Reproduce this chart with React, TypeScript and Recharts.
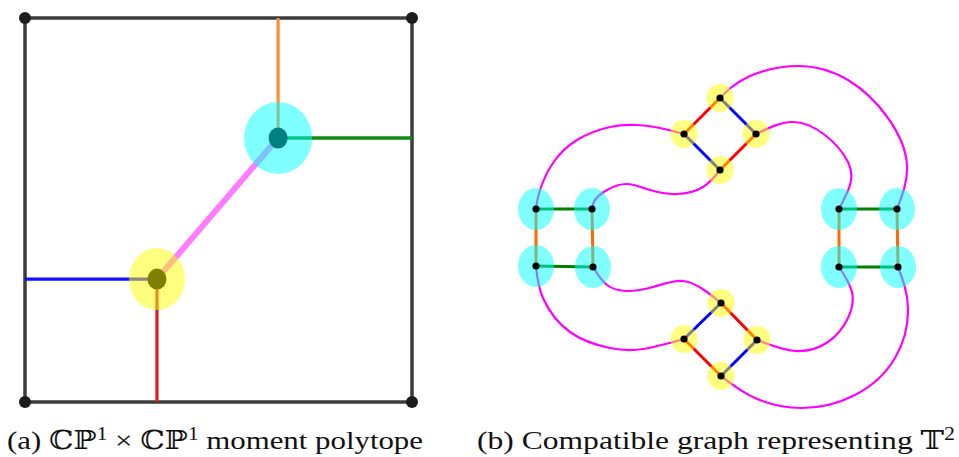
import React from "react";
import { ComposedChart, Line, Scatter, XAxis, YAxis } from "recharts";

type Pt = { x: number; y: number };

// ---- (a) moment polytope, square scaled to 0..100 ----
const squareFrame: Pt[] = [
  { x: 0, y: 0 },
  { x: 100, y: 0 },
  { x: 100, y: 100 },
  { x: 0, y: 100 },
  { x: 0, y: 0 },
];
const squareCorners: Pt[] = squareFrame.slice(0, 4);
const yellowVertex: Pt = { x: 34.1, y: 32 };
const cyanVertex: Pt = { x: 65.4, y: 68.75 };
const orangeLeg: Pt[] = [{ x: 65.4, y: 100 }, cyanVertex];
const greenLeg: Pt[] = [cyanVertex, { x: 100, y: 68.75 }];
const blueLeg: Pt[] = [{ x: 0, y: 32 }, yellowVertex];
const redLeg: Pt[] = [yellowVertex, { x: 34.1, y: 0 }];
const innerEdge: Pt[] = [yellowVertex, cyanVertex];

// ---- (b) compatible graph ----
// top diamond
const tdT: Pt = { x: 2, y: 139 };
const tdL: Pt = { x: -34, y: 103 };
const tdR: Pt = { x: 38, y: 103 };
const tdB: Pt = { x: 2, y: 67 };
// bottom diamond
const bdT: Pt = { x: 3, y: -66 };
const bdL: Pt = { x: -34, y: -102 };
const bdR: Pt = { x: 39, y: -103 };
const bdB: Pt = { x: 3, y: -139 };
// left square
const lsTL: Pt = { x: -182, y: 28 };
const lsTR: Pt = { x: -126, y: 28 };
const lsBL: Pt = { x: -182, y: -29 };
const lsBR: Pt = { x: -125, y: -30 };
// right square
const rsTL: Pt = { x: 121, y: 28 };
const rsTR: Pt = { x: 179, y: 28 };
const rsBL: Pt = { x: 121, y: -30 };
const rsBR: Pt = { x: 180, y: -30 };

const diamondVertices: Pt[] = [tdT, tdL, tdR, tdB, bdT, bdL, bdR, bdB];
const squareVertices: Pt[] = [lsTL, lsTR, lsBL, lsBR, rsTL, rsTR, rsBL, rsBR];

const redEdges: Pt[][] = [[tdT, tdL], [tdR, tdB], [bdT, bdR], [bdL, bdB]];
const blueEdges: Pt[][] = [[tdT, tdR], [tdL, tdB], [bdT, bdL], [bdR, bdB]];
const greenEdges: Pt[][] = [[lsTL, lsTR], [lsBL, lsBR], [rsTL, rsTR], [rsBL, rsBR]];
const orangeEdges: Pt[][] = [[lsTL, lsBL], [lsTR, lsBR], [rsTL, rsBL], [rsTR, rsBR]];

const magentaCurves: Pt[][] = [
  [tdT, { x: 30, y: 160 }, { x: 80, y: 171 }, { x: 130, y: 157 }, { x: 170, y: 119 }, { x: 189, y: 72 }, rsTR],
  [tdR, { x: 74, y: 115 }, { x: 107, y: 102 }, { x: 130, y: 75 }, { x: 132, y: 52 }, rsTL],
  [tdL, { x: -58, y: 109 }, { x: -81, y: 112 }, { x: -108, y: 110 }, { x: -141, y: 97 }, { x: -165, y: 74 }, { x: -178, y: 47 }, lsTL],
  [tdB, { x: -15, y: 50 }, { x: -41, y: 43 }, { x: -68, y: 47 }, { x: -91, y: 53 }, { x: -111, y: 47 }, { x: -123, y: 37 }, lsTR],
  [lsBR, { x: -111, y: -48 }, { x: -91, y: -54 }, { x: -65, y: -50 }, { x: -35, y: -44 }, { x: -11, y: -55 }, bdT],
  [lsBL, { x: -175, y: -61 }, { x: -148, y: -95 }, { x: -108, y: -111 }, { x: -75, y: -112 }, bdL],
  [bdR, { x: 77, y: -114 }, { x: 110, y: -105 }, { x: 130, y: -81 }, { x: 134, y: -55 }, rsBL],
  [bdB, { x: 37, y: -161 }, { x: 84, y: -171 }, { x: 137, y: -158 }, { x: 177, y: -121 }, { x: 190, y: -71 }, rsBR],
];

const captionA = ["(a) ℂℙ", "1", " × ℂℙ", "1", " moment polytope"];
const captionB = ["(b) Compatible graph representing 𝕋", "2"];

const ellipse = (rx: number, ry: number, fill: string, opacity = 1) =>
  (props: any) => (
    <ellipse cx={props.cx} cy={props.cy} rx={rx} ry={ry} fill={fill} fillOpacity={opacity} />
  );

const seg = (key: string, data: Pt[], color: string, width: number, type: any = "linear") => (
  <Line
    key={key}
    data={data}
    dataKey="y"
    type={type}
    stroke={color}
    strokeWidth={width}
    dot={false}
    activeDot={false}
    isAnimationActive={false}
    legendType="none"
  />
);

// caption text: odd pieces are superscripts
const Caption = ({ parts, x, width }: { parts: string[]; x: number; width: number }) => (
  <text
    x={x}
    y={449}
    textLength={width}
    lengthAdjust="spacingAndGlyphs"
    fontFamily='"Liberation Serif", "DejaVu Serif", serif'
    fontSize={26}
    fill="#111"
  >
    {parts.map((p, i) =>
      i % 2 === 1 ? (
        <tspan key={i} fontSize={18} dy={-9}>{p}</tspan>
      ) : (
        <tspan key={i} dy={i > 0 ? 9 : 0}>{p}</tspan>
      )
    )}
  </text>
);

export default function App() {
  return (
    <div style={{ position: "absolute", left: 0, top: 0, width: 959, height: 457, background: "#fff", overflow: "hidden" }}>
      <div style={{ position: "absolute", left: 0, top: 0 }}>
        <ComposedChart width={440} height={420} margin={{ top: 18, right: 28, bottom: 18, left: 25 }}>
          <XAxis type="number" dataKey="x" domain={[0, 100]} hide />
          <YAxis type="number" dataKey="y" domain={[0, 100]} hide />
          {seg("frame", squareFrame, "#3c3c3c", 3.5)}
          {seg("orange", orangeLeg, "#ff8a3a", 3.2)}
          {seg("green", greenLeg, "#128a12", 3.5)}
          {seg("blue", blueLeg, "#1010ff", 3.2)}
          {seg("red", redLeg, "#dd1a1a", 3.2)}
          {seg("inner", innerEdge, "#ff7cff", 6)}
          <Scatter data={squareCorners} shape={ellipse(6, 6, "#1c1c1c")} isAnimationActive={false} />
          <Scatter data={[yellowVertex, cyanVertex]} shape={ellipse(9.5, 10.5, "#000")} isAnimationActive={false} />
          <Scatter data={[yellowVertex]} shape={ellipse(28, 31, "#ffff00", 0.5)} isAnimationActive={false} />
          <Scatter data={[cyanVertex]} shape={ellipse(34, 36, "#00ffff", 0.5)} isAnimationActive={false} />
        </ComposedChart>
      </div>
      <div style={{ position: "absolute", left: 498, top: 47 }}>
        <ComposedChart width={440} height={380} margin={{ top: 0, right: 0, bottom: 0, left: 0 }}>
          <XAxis type="number" dataKey="x" domain={[-220, 220]} hide />
          <YAxis type="number" dataKey="y" domain={[-190, 190]} hide />
          {magentaCurves.map((c, i) => seg(`m${i}`, c, "#ff00ff", 2.2, "natural"))}
          {redEdges.map((e, i) => seg(`r${i}`, e, "#ff0000", 3))}
          {blueEdges.map((e, i) => seg(`b${i}`, e, "#0000ff", 3))}
          {greenEdges.map((e, i) => seg(`g${i}`, e, "#008000", 3))}
          {orangeEdges.map((e, i) => seg(`o${i}`, e, "#ff6a00", 3))}
          <Scatter data={diamondVertices} shape={ellipse(13.5, 14, "#ffff00", 0.5)} isAnimationActive={false} />
          <Scatter data={squareVertices} shape={ellipse(18, 21, "#00ffff", 0.5)} isAnimationActive={false} />
          <Scatter data={[...diamondVertices, ...squareVertices]} shape={ellipse(3.6, 3.6, "#000")} isAnimationActive={false} />
        </ComposedChart>
      </div>
      <svg width={959} height={457} style={{ position: "absolute", left: 0, top: 0, pointerEvents: "none" }}>
        <Caption parts={captionA} x={7} width={416} />
        <Caption parts={captionB} x={477} width={478} />
      </svg>
    </div>
  );
}
